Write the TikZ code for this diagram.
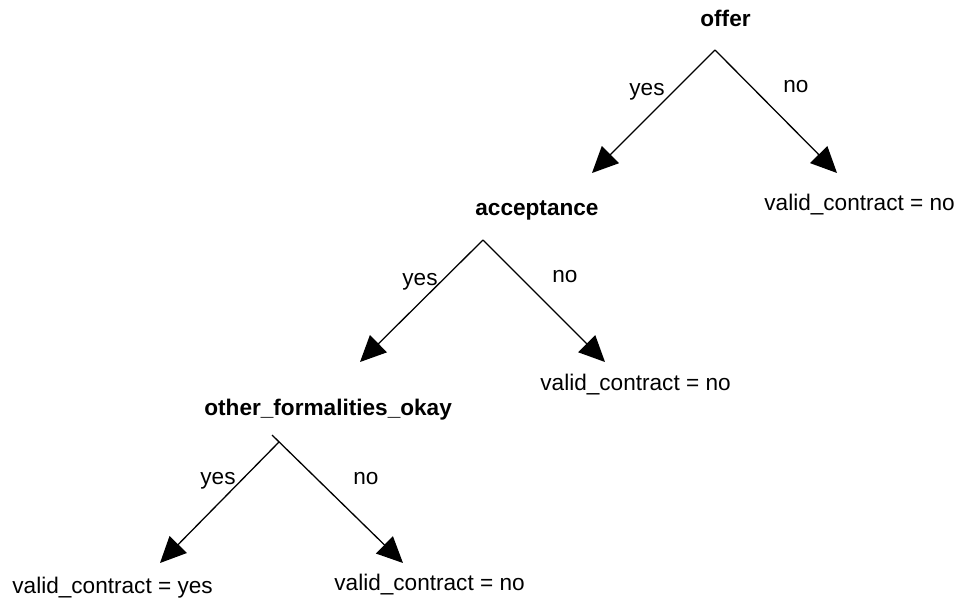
\documentclass[tikz,border=0pt]{standalone}
\usepackage{fontspec}
\setmainfont{Liberation Sans}
\usetikzlibrary{arrows.meta}

\tikzset{
  test/.style={anchor=base west,inner sep=0pt,font=\bfseries\fontsize{11.3}{14}\selectfont},
  leaf/.style={anchor=base west,inner sep=0pt,font=\fontsize{11.3}{14}\selectfont},
  answer/.style={anchor=base west,inner sep=0pt,font=\fontsize{11.3}{14}\selectfont},
  branch/.style={line width=0.65pt,-{Triangle[length=13pt,width=12pt]}},
}

\begin{document}
\begin{tikzpicture}[x=0.5pt,y=-0.5pt]
        \useasboundingbox (0,0) rectangle (962,600);

        % Offer test
        \node[test] (offer) at (700,26) {offer};
        \coordinate (offerFork) at (715,50);
        \coordinate (offerYes) at (592,173);
        \coordinate (offerNo) at (837,173);
        \draw[branch] (offerFork) -- (offerYes);
        \draw[branch] (offerFork) -- (offerNo);
        \node[answer] (offerYesLbl) at (629,95) {yes};
        \node[answer] (offerNoLbl) at (783,92) {no};
        \node[leaf] (leafA) at (764,210) {valid\_contract = no};

        % Acceptance test
        \node[test] (accept) at (475,215) {acceptance};
        \coordinate (acceptFork) at (483,240);
        \coordinate (acceptYes) at (360,362);
        \coordinate (acceptNo) at (605,362);
        \draw[branch] (acceptFork) -- (acceptYes);
        \draw[branch] (acceptFork) -- (acceptNo);
        \node[answer] (acceptYesLbl) at (402,285) {yes};
        \node[answer] (acceptNoLbl) at (552,282) {no};
        \node[leaf] (leafB) at (540,390) {valid\_contract = no};

        % Formalities test
        \node[test] (formal) at (204,415) {other\_formalities\_okay};
        \coordinate (formalFork) at (279,442);
        \coordinate (formalTick) at (272,435);
        \coordinate (formalYes) at (160,563);
        \coordinate (formalNo) at (403,563);
        \draw[branch] (formalFork) -- (formalYes);
        \draw[branch] (formalTick) -- (formalNo);
        \node[answer] (formalYesLbl) at (200,484) {yes};
        \node[answer] (formalNoLbl) at (353,484) {no};
        \node[leaf] (leafC) at (12,593) {valid\_contract = yes};
        \node[leaf] (leafD) at (334,590) {valid\_contract = no};

    \end{tikzpicture}
\end{document}
